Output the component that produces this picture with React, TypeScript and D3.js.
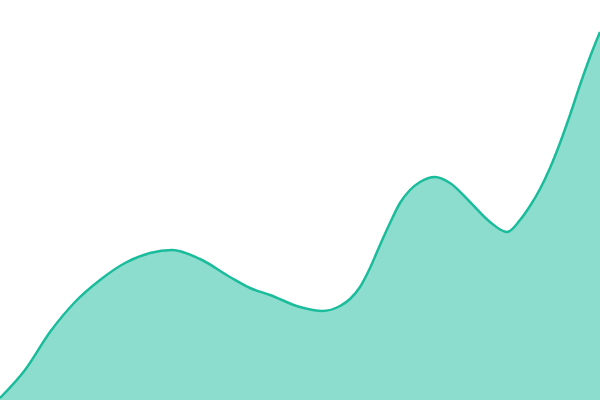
import React from "react";
import * as d3 from "d3";

const positions = [0, 25, 50, 75, 100, 125, 150, 172, 200, 230, 250, 270, 300, 322, 340, 350, 360, 370, 380, 390, 400, 410, 420, 435, 450, 470, 490, 507, 520, 530, 540, 550, 560, 570, 580, 590, 600];
const values = [2, 30, 68, 98, 120, 137, 147, 150, 141, 123, 112, 105, 93, 89, 94, 101, 113, 132, 155, 177, 197, 210, 218, 223, 217, 198, 178, 168, 180, 194, 211, 232, 257, 285, 315, 343, 368];

const W = 600;
const H = 400;

export default function App() {
  const x = d3.scaleLinear().domain([0, 600]).range([0, W]);
  const y = d3.scaleLinear().domain([0, 400]).range([H, 0]);
  const pts = positions.map((p, i) => [p, values[i]] as [number, number]);
  const area = d3
    .area<[number, number]>()
    .x((d) => x(d[0]))
    .y0(H)
    .y1((d) => y(d[1]))
    .curve(d3.curveMonotoneX);
  const line = d3
    .line<[number, number]>()
    .x((d) => x(d[0]))
    .y((d) => y(d[1]))
    .curve(d3.curveMonotoneX);
  return (
    <svg width={W} height={H} style={{ position: "fixed", left: 0, top: 0, display: "block", background: "#fff" }}>
      <path d={area(pts) || ""} fill="#1abc9c" fillOpacity={0.5} />
      <path d={line(pts) || ""} fill="none" stroke="#1abc9c" strokeWidth={2.5} />
    </svg>
  );
}
